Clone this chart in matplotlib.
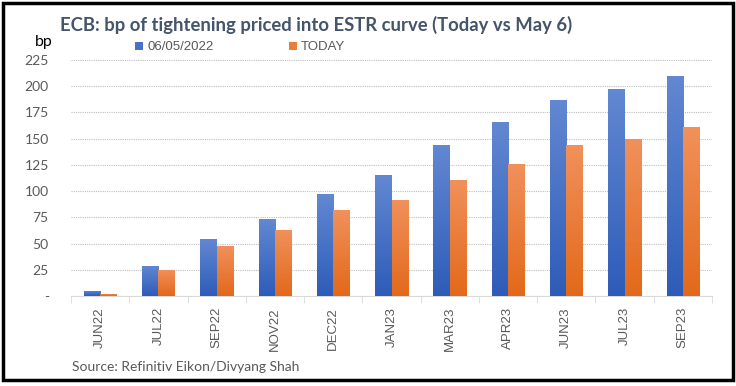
import numpy as np
import matplotlib
matplotlib.use("Agg")
import matplotlib.pyplot as plt
from matplotlib.colors import LinearSegmentedColormap
from matplotlib.patches import Rectangle

# data
months = ["JUN22", "JUL22", "SEP22", "NOV22", "DEC22", "JAN23",
          "MAR23", "APR23", "JUN23", "JUL23", "SEP23"]
may6 = [5, 29, 54, 73, 97, 115, 144, 166, 187, 197, 210]
today = [2, 25, 48, 63, 82, 92, 111, 126, 144, 150, 161]
yticks = [0, 25, 50, 75, 100, 125, 150, 175, 200, 225]
ylabels = ["-"] + [str(v) for v in yticks[1:]]

blue_cmap = LinearSegmentedColormap.from_list("b", ["#2D5CB8", "#6388D2"])
orange_cmap = LinearSegmentedColormap.from_list("o", ["#E2691A", "#F1915C"])

fig = plt.figure(figsize=(7.36, 3.86), dpi=100)
ax = fig.add_axes([71 / 736, 1 - 296 / 386, 641 / 736, 236 / 386])

x = np.arange(len(months))
w = 0.28
grad = np.linspace(0, 1, 256).reshape(-1, 1)


def grad_bars(xs, vals, cmap, label):
    bars = ax.bar(xs, vals, w, color=cmap(0.5), label=label, zorder=2)
    for b in bars:
        x0, y0 = b.get_x(), b.get_y()
        im = ax.imshow(grad, cmap=cmap, aspect="auto", origin="lower",
                       extent=[x0, x0 + b.get_width(), y0, y0 + b.get_height()],
                       zorder=3)
        im.set_clip_path(b)
    return bars


grad_bars(x - w / 2, may6, blue_cmap, "06/05/2022")
grad_bars(x + w / 2, today, orange_cmap, "TODAY")

ax.set_xlim(-0.5, len(months) - 0.5)
ax.set_ylim(0, 225)
ax.set_yticks(yticks)
ax.set_yticklabels(ylabels, fontsize=10, color="#595959", family="Lato")
ax.set_xticks(x)
ax.set_xticklabels(months, rotation=90, fontsize=9.5, color="#595959",
                   family="Liberation Sans")
ax.set_xticks(np.arange(-0.5, len(months)), minor=True)
ax.tick_params(axis="x", which="major", length=0, pad=8)
ax.tick_params(axis="x", which="minor", length=5, color="#D9D9D9")
ax.tick_params(axis="y", length=0, pad=16)
ax.grid(axis="y", linestyle=(0, (1, 1)), color="#BFBFBF", linewidth=0.8, zorder=0)
ax.set_axisbelow(True)
for s in ["top", "right", "left"]:
    ax.spines[s].set_visible(False)
ax.spines["bottom"].set_color("#D9D9D9")

# title, unit, legend, source
fig.text(60 / 736, 1 - 25 / 386, "ECB: bp of tightening priced into ESTR curve (Today vs May 6)",
         fontsize=13.3, fontweight="bold", color="#44546A", family="Lato", va="center")
fig.text(35 / 736, 1 - 42 / 386, "bp", fontsize=11.5, color="black", family="Lato", va="center")
ax.legend(loc="lower left", bbox_to_anchor=(0.09, 1.0), ncol=2, frameon=False,
          prop={"family": "Liberation Sans", "size": 9.5}, labelcolor="#595959",
          handlelength=0.6, handleheight=0.6, handletextpad=0.3, columnspacing=5.7,
          borderaxespad=0.1)
fig.text(72 / 736, 1 - 367 / 386, "Source: Refinitiv Eikon/Divyang Shah",
         fontsize=10, color="#595959", family="Lato", va="center")

# black frame round the chart
fig.patches.append(Rectangle((3 / 736, 1 - 380 / 386), 730 / 736, 377 / 386,
                             transform=fig.transFigure, fill=False,
                             edgecolor="black", linewidth=2.5))

fig.savefig("out.png", dpi=100)
